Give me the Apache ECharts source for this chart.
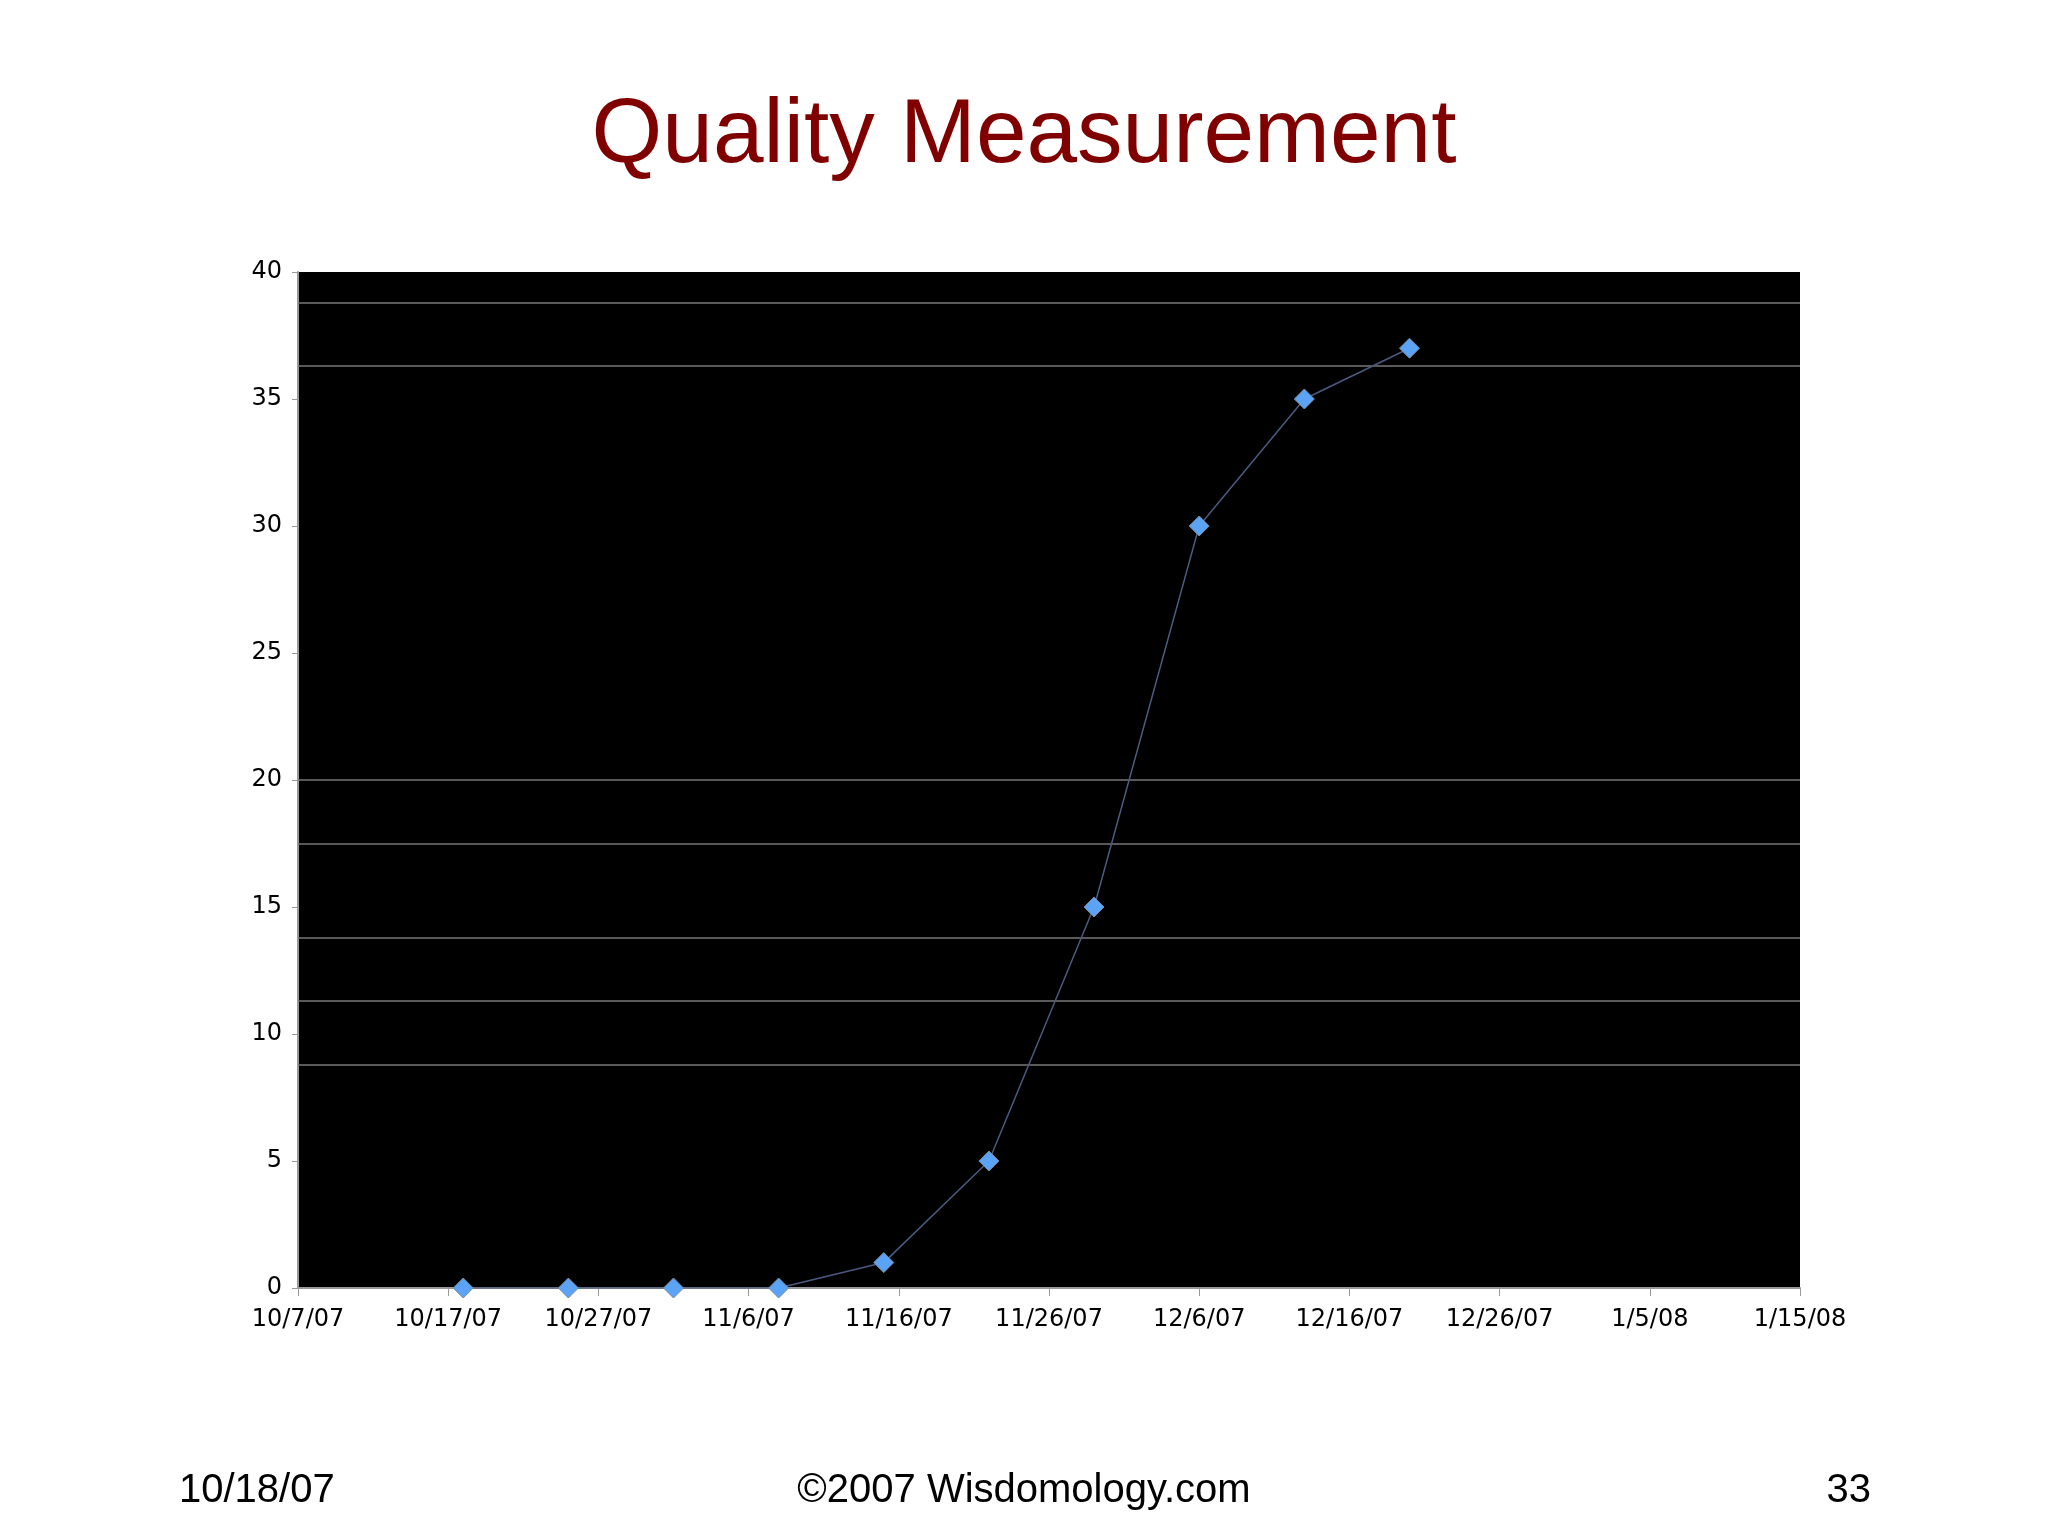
<!DOCTYPE html>
<html>
<head>
<meta charset="utf-8">
<script src="https://cdn.jsdelivr.net/npm/echarts@6/dist/echarts.min.js"></script>
<style>
  html, body { margin: 0; padding: 0; background: #fff; }
  #chart { width: 2048px; height: 1536px; }
</style>
</head>
<body>
<div id="chart"></div>
<script>
// days since 10/7/07
const dayOffsets = [11, 18, 25, 32, 39, 46, 53, 60, 67, 74];
const qualityValues = [0, 0, 0, 0, 1, 5, 15, 30, 35, 37];
const xTickLabels = ["10/7/07", "10/17/07", "10/27/07", "11/6/07", "11/16/07",
  "11/26/07", "12/6/07", "12/16/07", "12/26/07", "1/5/08", "1/15/08"];
// faint horizontal lines showing through the slide background
const backgroundLines = [38.8, 36.3, 20, 17.5, 13.8, 11.3, 8.8];

const chart = echarts.init(document.getElementById("chart"));
const axisText = { color: "#000", fontFamily: "DejaVu Sans", fontSize: 24 };

chart.setOption({
  animation: false,
  title: [
    {
      text: "Quality Measurement",
      left: "center",
      top: 86,
      textStyle: { color: "#800000", fontFamily: "Liberation Sans", fontSize: 91, fontWeight: "normal" },
    },
    {
      text: "10/18/07", left: 174, top: 1466,
      textStyle: { color: "#000", fontFamily: "Liberation Sans", fontSize: 40, fontWeight: "normal" },
    },
    {
      text: "\u00a92007 Wisdomology.com", left: "center", top: 1466,
      textStyle: { color: "#000", fontFamily: "Liberation Sans", fontSize: 40, fontWeight: "normal" },
    },
    {
      text: "33", right: 172, top: 1466,
      textStyle: { color: "#000", fontFamily: "Liberation Sans", fontSize: 40, fontWeight: "normal" },
    },
  ],
  grid: { left: 298, right: 248, top: 272, bottom: 248, backgroundColor: "#000", show: true, borderWidth: 0 },
  xAxis: {
    type: "value",
    min: 0,
    max: 100,
    interval: 10,
    axisLine: { lineStyle: { color: "#999", width: 2 } },
    axisTick: { show: true, length: 8, lineStyle: { color: "#999" } },
    splitLine: { show: false },
    axisLabel: { ...axisText, margin: 20, formatter: (v) => xTickLabels[Math.round(v / 10)] },
  },
  yAxis: {
    type: "value",
    min: 0,
    max: 40,
    interval: 5,
    axisLine: { show: true, lineStyle: { color: "#999", width: 2 } },
    axisTick: { show: true, length: 6, lineStyle: { color: "#999" } },
    splitLine: { show: false },
    axisLabel: { ...axisText, margin: 16 },
  },
  series: [
    {
      type: "line",
      data: dayOffsets.map((d, i) => [d, qualityValues[i]]),
      symbol: "diamond",
      symbolSize: 20,
      itemStyle: { color: "#5ba3f5", borderColor: "#7a8aa0", borderWidth: 1 },
      lineStyle: { color: "#4a5a80", width: 1.5 },
      markLine: {
        silent: true,
        symbol: "none",
        label: { show: false },
        lineStyle: { color: "#777", type: "solid", width: 1.5 },
        data: backgroundLines.map((y) => ({ yAxis: y })),
      },
      z: 5,
    },
  ],
});
</script>
</body>
</html>
